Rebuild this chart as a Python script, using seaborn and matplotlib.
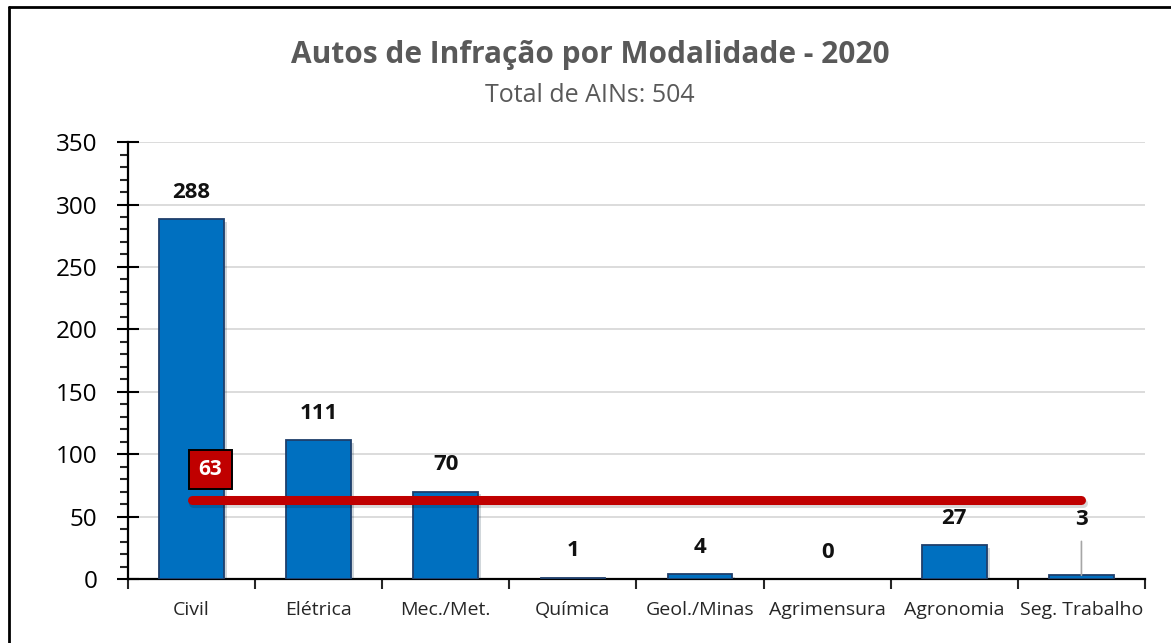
import numpy as np
import pandas as pd
import matplotlib
matplotlib.use("Agg")
import matplotlib.pyplot as plt
import matplotlib.patheffects as pe
from matplotlib.lines import Line2D
import seaborn as sns

modalidades = ["Civil", "Elétrica", "Mec./Met.", "Química", "Geol./Minas",
               "Agrimensura", "Agronomia", "Seg. Trabalho"]
autos = [288, 111, 70, 1, 4, 0, 27, 3]
media = 63
total = 504

sns.set_style("white")
plt.rcParams['font.family'] = ['Open Sans', 'DejaVu Sans']

df = pd.DataFrame({"Modalidade": modalidades, "Autos": autos})

fig = plt.figure(figsize=(11.71, 6.43), dpi=100)
ax = fig.add_axes([0.1093, 0.0995, 0.8685, 0.6795])

sns.barplot(data=df, x="Modalidade", y="Autos", color="#0070C0",
            saturation=1, width=0.51, edgecolor="#1F3F6B", linewidth=1.3,
            ax=ax, zorder=3)
for bar, v in zip(ax.patches, autos):
    if v == 0:
        bar.set_linewidth(0)
    bar.set_path_effects([pe.SimplePatchShadow(offset=(2, -2), alpha=0.18),
                          pe.Normal()])

# linha da media
pos = np.arange(len(modalidades))
ax.plot(pos, [media] * len(pos), color="#C00000", lw=6.5,
        solid_capstyle="round", zorder=5,
        path_effects=[pe.SimpleLineShadow(offset=(1, -2), alpha=0.15),
                      pe.Normal()])
ax.annotate(str(media), xy=(0, media), xytext=(19, 31),
            textcoords="offset pixels", ha="center", va="center",
            fontsize=15, fontweight="bold", color="white", zorder=6,
            bbox=dict(boxstyle="square,pad=0.45", fc="#C00000", ec="black", lw=1.4))

# rotulos
for i, v in enumerate(autos):
    if modalidades[i] == "Seg. Trabalho":
        ax.annotate(str(v), xy=(i, v), xytext=(0, 56), textcoords="offset pixels",
                    ha="center", va="center", fontsize=16, fontweight="bold",
                    color="#111111", zorder=6,
                    arrowprops=dict(arrowstyle="-", color="#A6A6A6", lw=1.2,
                                    shrinkA=6, shrinkB=0))
    else:
        ax.annotate(str(v), xy=(i, v), xytext=(0, 27), textcoords="offset pixels",
                    ha="center", va="center", fontsize=16, fontweight="bold",
                    color="#111111", zorder=6)

ax.set_ylim(0, 350)
ax.set_xlim(-0.5, len(modalidades) - 0.5)
ax.set_yticks(np.arange(0, 351, 50))
ax.set_yticks(np.arange(0, 351, 10), minor=True)
ax.tick_params(axis="y", which="both", left=True)
ax.tick_params(axis="y", which="major", direction="inout", length=16, width=1.5,
               labelsize=17.5, colors="black", pad=14)
ax.tick_params(axis="y", which="minor", direction="out", length=6, width=1.5)

ax.set_xticks(np.arange(-0.5, len(modalidades), 1))
ax.set_xticklabels([])
ax.set_xticks(pos, minor=True)
ax.set_xticklabels(modalidades, minor=True)
ax.tick_params(axis="x", which="both", bottom=True)
ax.tick_params(axis="x", which="major", direction="out", length=7, width=1.5)
ax.tick_params(axis="x", which="minor", length=0, labelsize=14,
               labelcolor="#262626", pad=16)

ax.yaxis.grid(True, color="#D9D9D9", lw=1.3, zorder=0)
ax.set_axisbelow(True)
for s in ["top", "right"]:
    ax.spines[s].set_visible(False)
for s in ["left", "bottom"]:
    ax.spines[s].set_color("black")
    ax.spines[s].set_linewidth(1.6)
ax.set_xlabel("")
ax.set_ylabel("")

fig.text(0.504, 0.9145, "Autos de Infração por Modalidade - 2020", ha="center",
         va="center", fontsize=21.5, fontweight="bold", color="#595959")
fig.text(0.504, 0.852, "Total de AINs: %d" % total, ha="center", va="center",
         fontsize=18, color="#595959")

# moldura do grafico
fig.add_artist(Line2D([9 / 1171, 9 / 1171], [0, 1 - 7 / 643], color="black",
                      lw=2, transform=fig.transFigure))
fig.add_artist(Line2D([9 / 1171, 1], [1 - 7 / 643, 1 - 7 / 643], color="black",
                      lw=2, transform=fig.transFigure))

fig.savefig("out.png", dpi=100)
